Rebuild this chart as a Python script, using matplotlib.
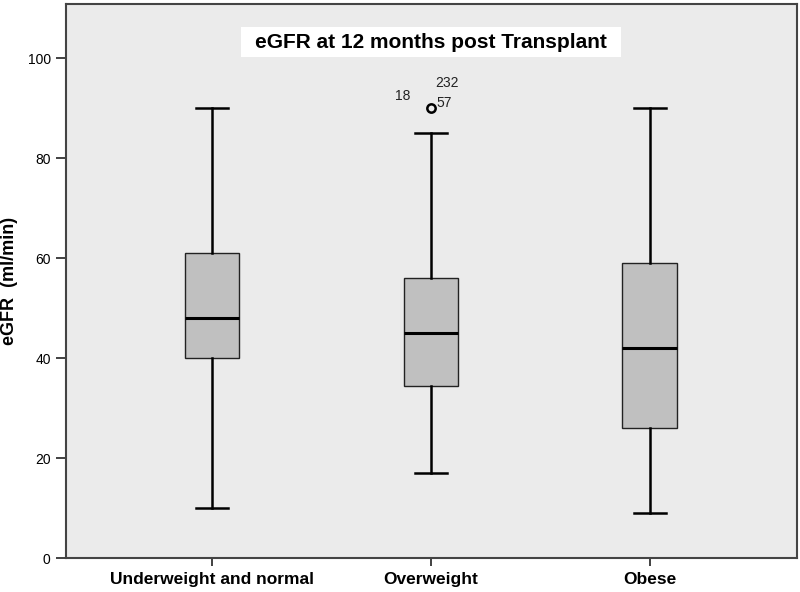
import matplotlib
matplotlib.use("Agg")
import matplotlib.pyplot as plt
from matplotlib.patches import Rectangle

categories = ["Underweight and normal", "Overweight", "Obese"]
whislo = [10, 17, 9]
q1 = [40, 34.5, 26]
med = [48, 45, 42]
q3 = [61, 56, 59]
whishi = [90, 85, 90]
outlier_group = [2]
outlier_value = [90]
outlier_labels = [["18", "232", "57"]]
yticks = [0, 20, 40, 60, 80, 100]

plt.rcParams['font.family'] = ['Liberation Sans', 'DejaVu Sans']

fig = plt.figure(figsize=(8, 5.92), dpi=100)
ax = fig.add_axes([0.0825, 0.0574, 0.9135, 0.9356])
ax.set_facecolor("#ebebeb")

stats = []
for i, c in enumerate(categories):
    stats.append(dict(label=c, whislo=whislo[i], q1=q1[i], med=med[i], q3=q3[i],
                      whishi=whishi[i], fliers=[]))
ax.bxp(stats, positions=[1, 2, 3], widths=0.25, patch_artist=True, showfliers=False,
       boxprops=dict(facecolor="#c0c0c0", edgecolor="#222222", linewidth=1.0),
       medianprops=dict(color="black", linewidth=2.2),
       whiskerprops=dict(color="black", linewidth=1.8),
       capprops=dict(color="black", linewidth=1.8),
       capwidths=0.146)

for g, v, labs in zip(outlier_group, outlier_value, outlier_labels):
    ax.plot([g], [v], marker="o", markersize=6, markerfacecolor="none",
            markeredgecolor="black", markeredgewidth=1.8, linestyle="none")
    ax.annotate(labs[0], (g, v), xytext=(-26, 6), textcoords="offset points",
                fontsize=10, color="#222222")
    ax.annotate(labs[1], (g, v), xytext=(3, 15), textcoords="offset points",
                fontsize=10, color="#222222")
    ax.annotate(labs[2], (g, v), xytext=(4, 1), textcoords="offset points",
                fontsize=10, color="#222222")

ax.set_xlim(1 - 146 / 219, 3 + 147 / 219)
ax.set_ylim(0, 110.8)
ax.set_yticks(yticks)
ax.set_yticklabels([str(t) for t in yticks], fontsize=10)
ax.set_xticks([1, 2, 3])
ax.set_xticklabels(categories, fontsize=12.5, fontweight="bold")
ax.tick_params(axis="y", length=7, width=1.3, color="#333333", pad=4)
ax.tick_params(axis="x", length=6, width=1.3, color="#333333", pad=4)
for s in ax.spines.values():
    s.set_color("#444444")
    s.set_linewidth(1.5)

ax.set_ylabel("eGFR  (ml/min)", fontsize=13, fontweight="bold")
ax.yaxis.set_label_coords(-0.0657, 0.5)

ax.add_patch(Rectangle((0.239, 0.904), 0.52, 0.054, transform=ax.transAxes,
                       facecolor="white", edgecolor="none", zorder=3))
ax.text(0.499, 0.931, "eGFR at 12 months post Transplant", transform=ax.transAxes,
        ha="center", va="center", fontsize=15, fontweight="bold", zorder=4)

fig.savefig("out.png", dpi=100)
